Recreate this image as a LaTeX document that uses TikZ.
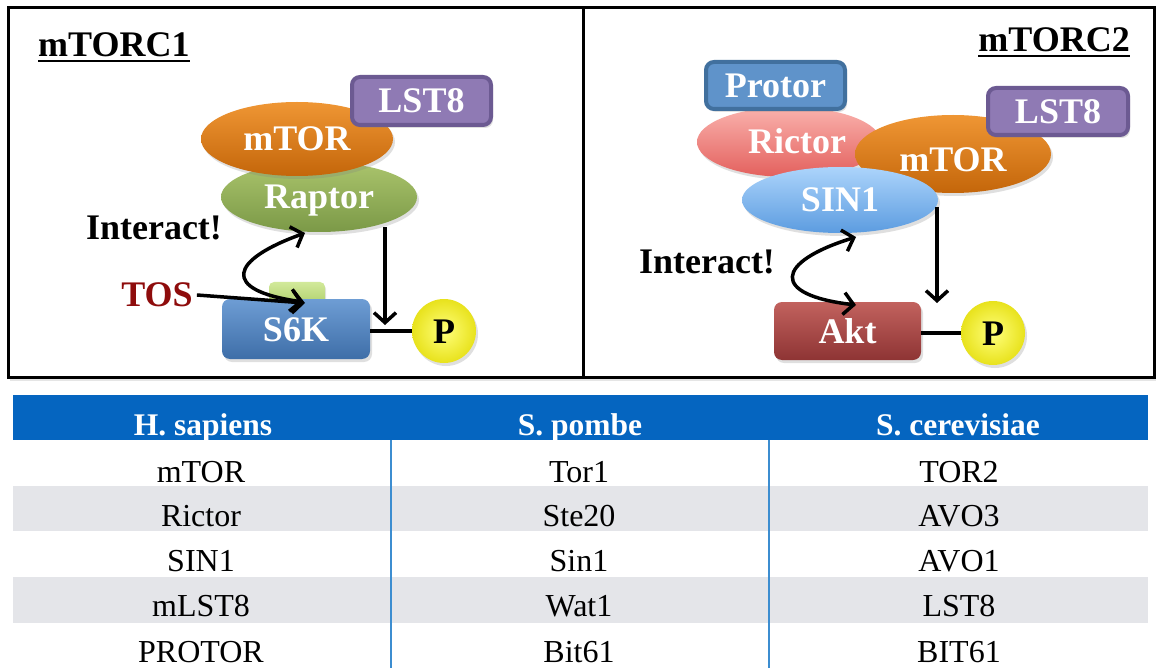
\documentclass[tikz,border=0pt]{standalone}
\usepackage{fontspec}
\setmainfont{Liberation Serif}
\usetikzlibrary{arrows.meta,shapes.geometric,shadows}
\definecolor{mtorT}{HTML}{EF9634}
\definecolor{mtorB}{HTML}{C4660A}
\definecolor{raptorT}{HTML}{AAC46C}
\definecolor{raptorB}{HTML}{7B9947}
\definecolor{lstFill}{HTML}{8F7AB4}
\definecolor{lstBorder}{HTML}{6C5A92}
\definecolor{s6kT}{HTML}{6E9DD4}
\definecolor{s6kB}{HTML}{3E6EA8}
\definecolor{tosT}{HTML}{D2E99A}
\definecolor{tosB}{HTML}{A4C85E}
\definecolor{aktT}{HTML}{C2625E}
\definecolor{aktB}{HTML}{8E3434}
\definecolor{protorFill}{HTML}{5F93CA}
\definecolor{protorBorder}{HTML}{41709E}
\definecolor{rictorT}{HTML}{FAB2AD}
\definecolor{rictorB}{HTML}{E3605D}
\definecolor{sinT}{HTML}{ACD4FB}
\definecolor{sinB}{HTML}{5C9CE0}
\definecolor{tosText}{HTML}{8E0C0C}
\definecolor{headBlue}{HTML}{0565C0}
\definecolor{rowGray}{HTML}{E4E5E9}
\definecolor{divBlue}{HTML}{3C8DD0}
\definecolor{pIn}{HTML}{FFFF7A}
\definecolor{pOut}{HTML}{E8E21C}
\begin{document}
\begin{tikzpicture}[x=1pt,y=-1pt,
  lbl/.style={font=\fontsize{36}{42}\selectfont\bfseries, text=white, text height=24pt, text depth=0pt},
  blk/.style={font=\fontsize{36}{42}\selectfont\bfseries, text=black, inner sep=0pt},
  ell/.style={ellipse, inner sep=0pt, lbl, drop shadow={shadow xshift=2pt, shadow yshift=-3pt, opacity=0.25}},
  box/.style={rectangle, rounded corners=8pt, inner sep=0pt, lbl, drop shadow={shadow xshift=2pt, shadow yshift=-3pt, opacity=0.25}},
  pcirc/.style={circle, minimum size=64pt, inner sep=0pt, inner color=pIn, outer color=pOut, font=\fontsize{36}{42}\selectfont\bfseries, text height=24pt, text depth=0pt, drop shadow={shadow xshift=2pt, shadow yshift=-3pt, opacity=0.25}},
  panel/.style={draw=black, line width=3pt, fill=white, drop shadow={shadow xshift=2pt, shadow yshift=-4pt, opacity=0.2}},
  arr/.style={line width=3.5pt, -{Straight Barb[length=10pt,width=22pt]}},
  darr/.style={line width=3.5pt, {Straight Barb[length=10pt,width=22pt]}-{Straight Barb[length=10pt,width=22pt]}},
  link/.style={line width=3.5pt},
  ttext/.style={font=\fontsize{32}{38}\selectfont, anchor=base, inner sep=0pt},
  thead/.style={font=\fontsize{31.5}{38}\selectfont\bfseries, text=white, anchor=base, inner sep=0pt}
]
\useasboundingbox (0,0) rectangle (1156,668);
\fill[white] (0,0) rectangle (1156,668);

% panels
\path[panel] (8,8) rectangle (583,377);
\path[panel] (583,8) rectangle (1154,377);

% ---------- mTORC1 ----------
\node[blk, anchor=base west] (title1) at (38,57) {mTORC1};
\draw[line width=2.5pt] ([yshift=-4pt]title1.base west) -- ([yshift=-4pt]title1.base east);

\node[ell, minimum width=196pt, minimum height=70pt, top color=raptorT, bottom color=raptorB] (raptor) at (319,197) {Raptor};
\node[ell, minimum width=192pt, minimum height=74pt, top color=mtorT, bottom color=mtorB] (mtor1) at (297,139) {mTOR};
\node[box, minimum width=139pt, minimum height=48pt, fill=lstFill, draw=lstBorder, line width=4pt] (lst1) at (421.5,101) {LST8};

\node[rectangle, rounded corners=5pt, minimum width=56pt, minimum height=30pt, top color=tosT, bottom color=tosB, drop shadow={shadow xshift=1pt, shadow yshift=-2pt, opacity=0.2}] (tosbox) at (297,297) {};
\node[box, minimum width=148pt, minimum height=60pt, top color=s6kT, bottom color=s6kB] (s6k) at (296,329) {S6K};
\node[pcirc] (p1) at (444,331) {P};

\node[blk, text=tosText] (tos) at (157,295) {TOS};
\node[blk] (interact1) at (154,228) {Interact!};

\coordinate (tosTip) at (305,303);
\coordinate (c1a) at (303,302);
\coordinate (c1b) at (305,233);
\coordinate (down1s) at (385,227);
\coordinate (down1e) at (385,325);

\draw[arr] ([xshift=4pt]tos.east) -- (tosTip);
\draw[darr] (c1a) .. controls (220,290) and (230,260) .. (c1b);
\draw[arr] (down1s) -- (down1e);
\draw[link] (p1.west -| s6k.east) -- (p1.west);

% ---------- mTORC2 ----------
\node[blk, anchor=base east] (title2) at (1130,52) {mTORC2};
\draw[line width=2.5pt] ([yshift=-4pt]title2.base west) -- ([yshift=-4pt]title2.base east);

\node[ell, minimum width=184pt, minimum height=70pt, top color=rictorT, bottom color=rictorB] (rictor) at (789,142) {\hspace*{16pt}Rictor};
\node[ell, minimum width=196pt, minimum height=78pt, top color=mtorT, bottom color=mtorB] (mtor2) at (953,154) {\raisebox{-6pt}{mTOR}};
\node[ell, minimum width=196pt, minimum height=66pt, top color=sinT, bottom color=sinB] (sin1) at (840,200) {SIN1};
\node[box, minimum width=139pt, minimum height=47pt, fill=protorFill, draw=protorBorder, line width=4pt] (protor) at (775.5,85.5) {Protor};
\node[box, minimum width=140pt, minimum height=47pt, fill=lstFill, draw=lstBorder, line width=4pt] (lst2) at (1058,111.5) {LST8};

\node[box, minimum width=147pt, minimum height=58pt, top color=aktT, bottom color=aktB] (akt) at (847.5,331) {Akt};
\node[pcirc] (p2) at (993,333) {P};

\node[blk] (interact2) at (707,262) {Interact!};

\coordinate (c2a) at (856,305);
\coordinate (c2b) at (856,237);
\coordinate (down2s) at (937,207);
\coordinate (down2e) at (937,303);

\draw[darr] (c2a) .. controls (770,295) and (775,262) .. (c2b);
\draw[arr] (down2s) -- (down2e);
\draw[link] (p2.west -| akt.east) -- (p2.west);

% ---------- table ----------
\fill[headBlue] (13,395) rectangle (1148,440);
\fill[rowGray] (13,486) rectangle (1148,531);
\fill[rowGray] (13,577) rectangle (1148,623);
\draw[divBlue, line width=1.5pt] (391,440) -- (391,668);
\draw[divBlue, line width=1.5pt] (769,440) -- (769,668);

\node[thead] (h1) at (203,435) {H. sapiens};
\node[thead] (h2) at (580,435) {S. pombe};
\node[thead] (h3) at (958,435) {S. cerevisiae};

\node[ttext] (r1c1) at (201,482) {mTOR};
\node[ttext] (r1c2) at (579,482) {Tor1};
\node[ttext] (r1c3) at (959,482) {TOR2};
\node[ttext] (r2c1) at (201,526) {Rictor};
\node[ttext] (r2c2) at (579,526) {Ste20};
\node[ttext] (r2c3) at (959,526) {AVO3};
\node[ttext] (r3c1) at (201,571) {SIN1};
\node[ttext] (r3c2) at (579,571) {Sin1};
\node[ttext] (r3c3) at (959,571) {AVO1};
\node[ttext] (r4c1) at (201,616) {mLST8};
\node[ttext] (r4c2) at (579,616) {Wat1};
\node[ttext] (r4c3) at (959,616) {LST8};
\node[ttext] (r5c1) at (201,662) {PROTOR};
\node[ttext] (r5c2) at (579,662) {Bit61};
\node[ttext] (r5c3) at (959,662) {BIT61};
\end{tikzpicture}
\end{document}
